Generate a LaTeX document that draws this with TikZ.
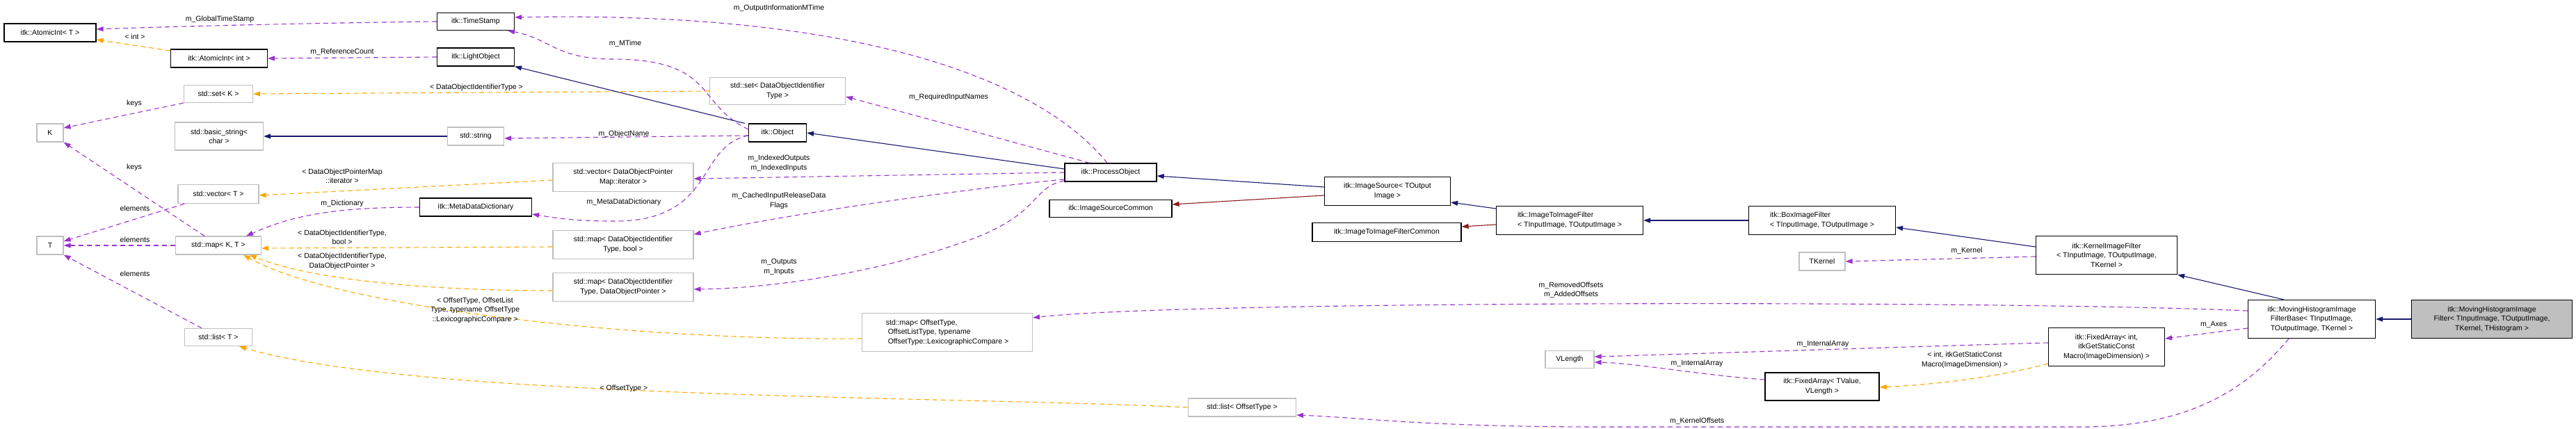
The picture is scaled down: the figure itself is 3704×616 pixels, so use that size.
\documentclass[tikz,border=0pt]{standalone}
\usepackage{fontspec}
\setmainfont{Liberation Sans}
\usetikzlibrary{arrows.meta}
\definecolor{inh}{HTML}{191970}
\definecolor{prv}{HTML}{8B1A1A}
\definecolor{use}{HTML}{9A32CD}
\definecolor{tpl}{HTML}{FFA500}
\definecolor{gbox}{HTML}{BFBFBF}
\begin{document}
\begin{tikzpicture}[x=1pt,y=-1pt,
  every node/.style={font=\fontsize{10.5}{13.5}\selectfont},
  box/.style={draw=black,line width=1.2pt,fill=white,inner sep=0pt,align=center},
  gb/.style={draw=gbox,line width=1.2pt,fill=white,inner sep=0pt,align=center},
  lbl/.style={inner sep=0pt,align=center},
  ar/.style={line width=1.1pt},
  inhe/.style={ar,draw=inh,-{Triangle[length=10pt,width=7pt,fill=inh]}},
  prve/.style={ar,draw=prv,-{Triangle[length=10pt,width=7pt,fill=prv]}},
  usee/.style={ar,draw=use,dash pattern=on 7pt off 5pt,-{Triangle[length=10pt,width=7pt,fill=use]}},
  tple/.style={ar,draw=tpl,dash pattern=on 7pt off 5pt,-{Triangle[length=10pt,width=7pt,fill=tpl]}}]
\useasboundingbox (0,0) rectangle (3704,616);
% nodes
\node[box,minimum width=132pt,minimum height=26pt] (ait) at (72,47) {itk::AtomicInt< T >};
\node[box,minimum width=139pt,minimum height=26pt] (aii) at (315,84) {itk::AtomicInt< int >};
\node[gb,minimum width=99pt,minimum height=25pt] (setk) at (314,135) {std::set< K >};
\node[gb,minimum width=38pt,minimum height=26pt] (K) at (72,191) {K};
\node[gb,minimum width=127pt,minimum height=40pt] (bs) at (315,196) {std::basic\_string<\\char >};
\node[gb,minimum width=116pt,minimum height=27pt] (vect) at (314,279) {std::vector< T >};
\node[gb,minimum width=38pt,minimum height=26pt] (T) at (72,353) {T};
\node[gb,minimum width=123pt,minimum height=26pt] (mapkt) at (314,353) {std::map< K, T >};
\node[gb,minimum width=97pt,minimum height=25pt] (listt) at (314,485) {std::list< T >};
\node[box,minimum width=111pt,minimum height=25pt] (ts) at (684,31) {itk::TimeStamp};
\node[box,minimum width=111pt,minimum height=26pt] (lo) at (684,82) {itk::LightObject};
\node[gb,minimum width=195pt,minimum height=39pt] (setd) at (1118,131) {std::set< DataObjectIdentifier\\Type >};
\node[box,minimum width=83pt,minimum height=26pt] (obj) at (1118,191) {itk::Object};
\node[gb,minimum width=81pt,minimum height=26pt] (str) at (684,196) {std::string};
\node[gb,minimum width=202pt,minimum height=41pt] (vecd) at (896,255) {std::vector< DataObjectPointer\\Map::iterator >};
\node[box,minimum width=161pt,minimum height=26pt] (mdd) at (684,298) {itk::MetaDataDictionary};
\node[gb,minimum width=202pt,minimum height=41pt] (mapb) at (896,352) {std::map< DataObjectIdentifier\\Type, bool >};
\node[gb,minimum width=202pt,minimum height=41pt] (mapdop) at (896,413) {std::map< DataObjectIdentifier\\Type, DataObjectPointer >};
\node[box,minimum width=132pt,minimum height=26pt] (po) at (1597,248) {itk::ProcessObject};
\node[box,minimum width=176pt,minimum height=25pt] (isc) at (1597,300) {itk::ImageSourceCommon};
\node[gb,minimum width=245pt,minimum height=55pt,align=left] (mapoff) at (1362,478) {std::map< OffsetType,\\\ OffsetListType, typename\\\ OffsetType::LexicographicCompare >};
\node[gb,minimum width=155pt,minimum height=26pt] (listoff) at (1786,586) {std::list< OffsetType >};
\node[box,minimum width=181pt,minimum height=41pt] (is) at (1995,275) {itk::ImageSource< TOutput\\Image >};
\node[box,minimum width=214pt,minimum height=27pt] (itifc) at (1994,334) {itk::ImageToImageFilterCommon};
\node[box,minimum width=211pt,minimum height=41pt,align=left] (itif) at (2257,317) {itk::ImageToImageFilter\\< TInputImage, TOutputImage >};
\node[gb,minimum width=70pt,minimum height=25pt] (vlen) at (2257,517) {VLength};
\node[box,minimum width=211pt,minimum height=41pt,align=left] (box) at (2620,317) {itk::BoxImageFilter\\< TInputImage, TOutputImage >};
\node[gb,minimum width=66pt,minimum height=26pt] (tk) at (2620,376) {TKernel};
\node[box,minimum width=203pt,minimum height=55pt] (kif) at (3029,367) {itk::KernelImageFilter\\< TInputImage, TOutputImage,\\TKernel >};
\node[box,minimum width=167pt,minimum height=55pt] (fa) at (3029,499) {itk::FixedArray< int,\\itkGetStaticConst\\Macro(ImageDimension) >};
\node[box,minimum width=164pt,minimum height=40pt] (fav) at (2620,556) {itk::FixedArray< TValue,\\VLength >};
\node[box,minimum width=183pt,minimum height=55pt] (mhifb) at (3324,459) {itk::MovingHistogramImage\\FilterBase< TInputImage,\\TOutputImage, TKernel >};
\node[box,fill=gbox,minimum width=231pt,minimum height=55pt] (mhif) at (3583,459) {itk::MovingHistogramImage\\Filter< TInputImage, TOutputImage,\\TKernel, THistogram >};
% edges
\draw[usee] (ts.west) .. controls (450,33) and (250,38) .. ([yshift=5pt]ait.east);
\draw[tple] ([yshift=11pt]aii.west) -- ([yshift=-10pt]ait.east);
\draw[usee] (lo.west) -- (aii.east);
\draw[tple] (setd.west) -- (setk.east);
\draw[usee] (setk.south west) -- ([yshift=7pt]K.east);
\draw[inhe] (str.west) -- (bs.east);
\draw[usee] ([xshift=-20pt]mapkt.north) -- (K.south east);
\draw[tple] ([yshift=-4pt]vecd.west) -- ([yshift=-2pt]vect.east);
\draw[usee] ([xshift=10pt]vect.south west) -- ([yshift=6pt]T.east);
\draw[usee] (mapkt.west) -- (T.east);
\draw[usee] ([xshift=-24pt]listt.north) -- (T.south east);
\draw[usee] (mdd.west) .. controls (480,298) and (420,310) .. ([xshift=40pt]mapkt.north);
\draw[tple] ([yshift=-3pt]mapb.west) -- ([yshift=-4pt]mapkt.east);
\draw[tple] ([yshift=-5pt]mapdop.west) .. controls (600,418) and (440,400) .. ([xshift=45pt]mapkt.south);
\draw[tple] ([yshift=-9pt]mapoff.west) .. controls (900,490) and (480,440) .. ([xshift=36pt]mapkt.south);
\draw[tple] (listoff.west) .. controls (1400,570) and (600,575) .. ([xshift=30pt]listt.south);
\draw[usee] ([yshift=5pt]obj.west) .. controls (1000,150) and (1030,85) .. (880,85) .. controls (800,85) and (790,55) .. ([xshift=-10pt]ts.south east);
\draw[inhe] ([xshift=-5pt]obj.north west) -- (lo.south east);
\draw[usee] ([yshift=-4pt]obj.west) -- ([yshift=-3pt]str.east);
\draw[usee] ([yshift=-4pt]obj.west) .. controls (1000,210) and (1030,320) .. (880,318) .. controls (820,318) and (790,312) .. ([yshift=-10pt]mdd.east);
\draw[usee] ([xshift=-5pt]po.north) .. controls (1500,120) and (1250,15) .. ([yshift=6pt]ts.east);
\draw[usee] ([xshift=-30pt]po.north) -- ([yshift=-8pt]setd.east);
\draw[inhe] ([yshift=5pt]po.west) -- (obj.east);
\draw[usee] (po.west) -- ([yshift=-2pt]vecd.east);
\draw[usee] ([yshift=-10pt]po.west) .. controls (1400,270) and (1150,305) .. ([yshift=15pt]mapb.east);
\draw[usee] ([yshift=-12pt]po.west) .. controls (1480,270) and (1500,310) .. (1380,350) .. controls (1250,395) and (1100,415) .. ([yshift=-3pt]mapdop.east);
\draw[inhe] ([yshift=6pt]is.west) -- ([yshift=-5pt]po.east);
\draw[prve] ([yshift=-6pt]is.west) -- ([yshift=6pt]isc.east);
\draw[inhe] ([yshift=17pt]itif.west) -- ([yshift=-16pt]is.east);
\draw[prve] ([yshift=-6pt]itif.west) -- ([yshift=8pt]itifc.east);
\draw[inhe] (box.west) -- (itif.east);
\draw[inhe] ([yshift=12pt]kif.west) -- ([yshift=-10pt]box.east);
\draw[usee] ([yshift=-2pt]kif.west) -- (tk.east);
\draw[inhe] ([xshift=-40pt]mhifb.north) -- (kif.south east);
\draw[usee] ([yshift=12pt]mhifb.west) .. controls (2900,432) and (1700,432) .. ([yshift=21pt]mapoff.east);
\draw[usee] ([yshift=-13pt]mhifb.west) -- ([yshift=12pt]fa.east);
\draw[usee] ([xshift=-33pt]mhifb.south) .. controls (3230,560) and (3150,612) .. (3000,614) -- (2300,614) .. controls (2050,614) and (1950,600) .. ([yshift=-11pt]listoff.east);
\draw[usee] ([yshift=6pt]fa.west) .. controls (2700,500) and (2400,510) .. ([yshift=4pt]vlen.east);
\draw[usee] ([yshift=10pt]fav.west) .. controls (2450,540) and (2350,522) .. ([yshift=-4pt]vlen.east);
\draw[tple] ([yshift=-24pt]fa.west) .. controls (2880,540) and (2800,552) .. ([yshift=-1pt]fav.east);
\draw[inhe] (mhif.west) -- (mhifb.east);
% labels
\node[lbl] (l1) at (316,28) {m\_GlobalTimeStamp};
\node[lbl] (l2) at (194,53) {< int >};
\node[lbl] (l3) at (492,75) {m\_ReferenceCount};
\node[lbl] (l4) at (685,126) {< DataObjectIdentifierType >};
\node[lbl] (l5) at (193,149) {keys};
\node[lbl] (l6) at (193,241) {keys};
\node[lbl] (l7) at (492,253) {< DataObjectPointerMap\\::iterator >};
\node[lbl] (l8) at (194,300) {elements};
\node[lbl] (l9) at (194,345) {elements};
\node[lbl] (l10) at (194,394) {elements};
\node[lbl] (l11) at (492,293) {m\_Dictionary};
\node[lbl] (l12) at (492,341) {< DataObjectIdentifierType,\\bool >};
\node[lbl] (l13) at (492,376) {< DataObjectIdentifierType,\\DataObjectPointer >};
\node[lbl] (l14) at (683,446) {< OffsetType, OffsetList\\Type, typename OffsetType\\::LexicographicCompare >};
\node[lbl] (l15) at (897,559) {< OffsetType >};
\node[lbl] (l16) at (899,63) {m\_MTime};
\node[lbl] (l17) at (897,193) {m\_ObjectName};
\node[lbl] (l18) at (897,291) {m\_MetaDataDictionary};
\node[lbl] (l19) at (1120,12) {m\_OutputInformationMTime};
\node[lbl] (l20) at (1364,140) {m\_RequiredInputNames};
\node[lbl] (l21) at (1120,235) {m\_IndexedOutputs\\m\_IndexedInputs};
\node[lbl] (l22) at (1120,289) {m\_CachedInputReleaseData\\Flags};
\node[lbl] (l23) at (1120,384) {m\_Outputs\\m\_Inputs};
\node[lbl] (l24) at (2259,417) {m\_RemovedOffsets\\m\_AddedOffsets};
\node[lbl] (l25) at (2828,361) {m\_Kernel};
\node[lbl] (l26) at (2621,495) {m\_InternalArray};
\node[lbl] (l27) at (2440,523) {m\_InternalArray};
\node[lbl] (l28) at (2825,518) {< int, itkGetStaticConst\\Macro(ImageDimension) >};
\node[lbl] (l29) at (3183,467) {m\_Axes};
\node[lbl] (l30) at (2440,606) {m\_KernelOffsets};
\end{tikzpicture}
\end{document}
